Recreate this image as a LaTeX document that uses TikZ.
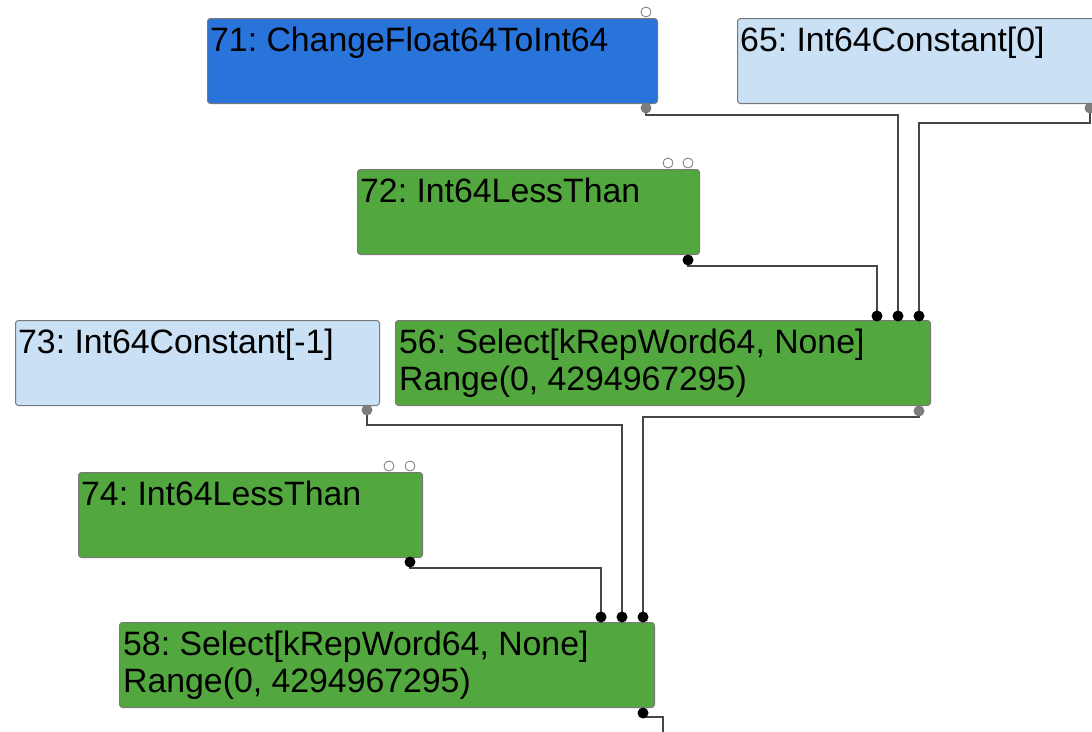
\documentclass[tikz,border=0pt]{standalone}
\usepackage{fontspec}
\setmainfont{Liberation Sans}
\frenchspacing
\usetikzlibrary{calc}
\definecolor{opblue}{RGB}{40,116,219}
\definecolor{opgreen}{RGB}{82,168,62}
\definecolor{constblue}{RGB}{202,224,244}
\definecolor{boxedge}{RGB}{120,120,120}
\definecolor{wirecol}{RGB}{70,70,70}
\definecolor{portgray}{RGB}{125,125,125}
\tikzset{
  opbox/.style={draw=boxedge, line width=1pt, rounded corners=3pt,
    anchor=north west, inner sep=0pt},
  lbl/.style={anchor=base west, inner sep=0pt, text=black,
    font=\fontsize{33.8}{37}\selectfont},
  outgray/.style={circle, fill=portgray, inner sep=0pt, minimum size=11pt},
  outblack/.style={circle, fill=black, inner sep=0pt, minimum size=11pt},
  inblack/.style={circle, fill=black, inner sep=0pt, minimum size=11pt},
  inopen/.style={circle, draw=boxedge, fill=white, line width=0.8pt,
    inner sep=0pt, minimum size=10pt},
  wire/.style={draw=wirecol, line width=2pt},
}
\begin{document}
\begin{tikzpicture}[x=1pt, y=-1pt]
\useasboundingbox (0,0) rectangle (1092,731);
\clip (0,0) rectangle (1092,731);

% operation boxes
\node[opbox, fill=opblue, minimum width=450pt, minimum height=85pt] (n71) at (207,18) {};
\node[opbox, fill=constblue, minimum width=380pt, minimum height=85pt] (n65) at (737,18) {};
\node[opbox, fill=opgreen, minimum width=342pt, minimum height=85pt] (n72) at (357,169) {};
\node[opbox, fill=constblue, minimum width=364pt, minimum height=85pt] (n73) at (15,320) {};
\node[opbox, fill=opgreen, minimum width=535pt, minimum height=85pt] (n56) at (395,320) {};
\node[opbox, fill=opgreen, minimum width=344pt, minimum height=85pt] (n74) at (78,472) {};
\node[opbox, fill=opgreen, minimum width=535pt, minimum height=85pt] (n58) at (119,622) {};

% labels
\node[lbl] (t71) at ($(n71.north west)+(3,33)$) {71: ChangeFloat64ToInt64};
\node[lbl] (t65) at ($(n65.north west)+(3,33)$) {65: Int64Constant[0]};
\node[lbl] (t72) at ($(n72.north west)+(3,33)$) {72: Int64LessThan};
\node[lbl] (t73) at ($(n73.north west)+(3,33)$) {73: Int64Constant[-1]};
\node[lbl] (t56a) at ($(n56.north west)+(4,33)$) {56: Select[kRepWord64, None]};
\node[lbl] (t56b) at ($(n56.north west)+(4,70)$) {Range(0, 4294967295)};
\node[lbl] (t74) at ($(n74.north west)+(3,33)$) {74: Int64LessThan};
\node[lbl] (t58a) at ($(n58.north west)+(4,33)$) {58: Select[kRepWord64, None]};
\node[lbl] (t58b) at ($(n58.north west)+(4,70)$) {Range(0, 4294967295)};

% unconnected inputs
\node[inopen] (u71) at (646,12) {};
\node[inopen] (u72a) at (668,163) {};
\node[inopen] (u72b) at (688,163) {};
\node[inopen] (u74a) at (389,466) {};
\node[inopen] (u74b) at (410,466) {};

% wires (drawn under the ports)
\coordinate (i56a) at (877,316);
\coordinate (i56b) at (898,316);
\coordinate (i56c) at (919,316);
\coordinate (i58a) at (601,617);
\coordinate (i58b) at (622,617);
\coordinate (i58c) at (643,617);
\coordinate (o71) at (646,108);
\coordinate (o65) at (1090,108);
\coordinate (o72) at (688,260);
\coordinate (o73) at (367,410);
\coordinate (o56) at (919,411);
\coordinate (o74) at (410,562);
\coordinate (o58) at (643,713);
\coordinate (down58) at (663,740);

\draw[wire] (o71) -- ++(0,7) -| (i56b);
\draw[wire] (o65) -- ++(0,15) -| (i56c);
\draw[wire] (o72) -- ++(0,6) -| (i56a);
\draw[wire] (o73) -- ++(0,15) -| (i58b);
\draw[wire] (o56) -- ++(0,6) -| (i58c);
\draw[wire] (o74) -- ++(0,6) -| (i58a);
\draw[wire] (o58) -- ++(0,4) -| (down58);

% ports
\node[outgray] (p71) at (o71) {};
\node[outgray] (p65) at (o65) {};
\node[outblack] (p72) at (o72) {};
\node[outgray] (p73) at (o73) {};
\node[outgray] (p56) at (o56) {};
\node[outblack] (p74) at (o74) {};
\node[outblack] (p58) at (o58) {};
\node[inblack] (q56a) at (i56a) {};
\node[inblack] (q56b) at (i56b) {};
\node[inblack] (q56c) at (i56c) {};
\node[inblack] (q58a) at (i58a) {};
\node[inblack] (q58b) at (i58b) {};
\node[inblack] (q58c) at (i58c) {};
\end{tikzpicture}
\end{document}
